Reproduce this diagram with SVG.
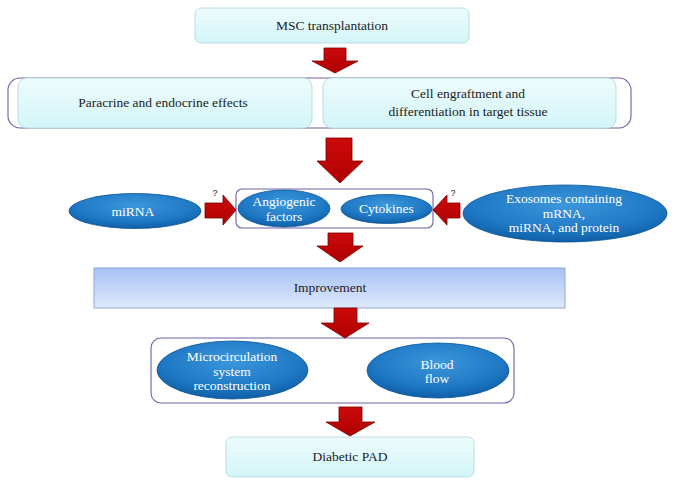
<svg xmlns="http://www.w3.org/2000/svg" width="677" height="486" viewBox="0 0 677 486">
<defs>
<linearGradient id="cyan" x1="0" y1="0" x2="0" y2="1"><stop offset="0" stop-color="#eefcfd"/><stop offset="1" stop-color="#d3f5f8"/></linearGradient>
<linearGradient id="imp" x1="0" y1="0" x2="0" y2="1"><stop offset="0" stop-color="#a6c2f4"/><stop offset="1" stop-color="#dfe9fb"/></linearGradient>
<radialGradient id="blue" cx="0.5" cy="0.35" r="0.65"><stop offset="0" stop-color="#3d97dc"/><stop offset="0.7" stop-color="#1e78c4"/><stop offset="1" stop-color="#0f5ea6"/></radialGradient>
<linearGradient id="red" x1="0" y1="0" x2="0" y2="1"><stop offset="0" stop-color="#cc0a0a"/><stop offset="1" stop-color="#b00000"/></linearGradient>
</defs>
<style>
.box{fill:url(#cyan);stroke:#b9dde6;stroke-width:1}
.cont{fill:none;stroke:#6c62a8;stroke-width:1.1}
.ell{fill:url(#blue);stroke:#0d5596;stroke-width:0.8}
.t{font-family:"Liberation Serif",serif;font-size:13.5px;fill:#222;text-anchor:middle}
.w{font-family:"Liberation Serif",serif;font-size:13.5px;fill:#fff;text-anchor:middle}
.q{font-family:"Liberation Sans",sans-serif;font-size:9px;fill:#222;text-anchor:middle}
.arr{fill:url(#red);stroke:#7a0000;stroke-width:0.8}
</style>
<g id="msc"><rect class="box" x="195" y="8" width="274" height="35" rx="6"/><text class="t" x="332" y="30">MSC transplantation</text></g>
<g id="row2">
<rect class="cont" x="8" y="78" width="623" height="50" rx="12"/>
<g id="paracrine"><rect class="box" x="18" y="78" width="294" height="50" rx="9"/><text class="t" x="163" y="107">Paracrine and endocrine effects</text></g>
<g id="engraft"><rect class="box" x="323" y="78" width="293" height="50" rx="9"/><text class="t" x="468" y="98">Cell engraftment and</text><text class="t" x="468" y="116">differentiation in target tissue</text></g>
</g>
<g id="mid">
<rect class="cont" x="236" y="189" width="197" height="39" rx="6"/>
<g id="angio"><ellipse class="ell" cx="284" cy="208.5" rx="46" ry="18.5"/><text class="w" x="284" y="206">Angiogenic</text><text class="w" x="284" y="221">factors</text></g>
<g id="cyto"><ellipse class="ell" cx="386.5" cy="209" rx="45.5" ry="14.5"/><text class="w" x="386.5" y="213">Cytokines</text></g>
</g>
<g id="mirna"><ellipse class="ell" cx="135" cy="211" rx="66" ry="17.5"/><text class="w" x="133" y="215.5">miRNA</text></g>
<g id="exo"><ellipse class="ell" cx="565" cy="213.5" rx="102" ry="28.5"/><text class="w" x="564" y="203">Exosomes containing</text><text class="w" x="564" y="217.5">mRNA,</text><text class="w" x="564" y="232">miRNA, and protein</text></g>
<g id="improvement"><rect x="94" y="268" width="471" height="40" fill="url(#imp)" stroke="#8ea8d8" stroke-width="1"/><text class="t" x="330" y="291.5">Improvement</text></g>
<g id="lower">
<rect class="cont" x="151" y="338" width="363" height="65" rx="10"/>
<g id="micro"><ellipse class="ell" cx="232.5" cy="370" rx="75.5" ry="29"/><text class="w" x="232" y="361">Microcirculation</text><text class="w" x="232" y="375.5">system</text><text class="w" x="232" y="390">reconstruction</text></g>
<g id="blood"><ellipse class="ell" cx="438" cy="370.5" rx="71" ry="27.5"/><text class="w" x="437" y="369">Blood</text><text class="w" x="437" y="383">flow</text></g>
</g>
<g id="pad"><rect class="box" x="226" y="437" width="248" height="40" rx="6"/><text class="t" x="350" y="461">Diabetic PAD</text></g>
<g id="connectors">
<path class="arr" d="M324,48 H346 V61 H358 L335,73 L312,61 H324 Z"/>
<path class="arr" d="M326,138 H352 V161 H363 L340,183 L317,161 H326 Z"/>
<path class="arr" d="M328,233 H353 V246 H363 L340,262 L317,246 H328 Z"/>
<path class="arr" d="M334,308 H357 V323 H369 L345,338 L321,323 H334 Z"/>
<path class="arr" d="M339,407 H362 V422 H375 L350,436 L326,422 H339 Z"/>
<path class="arr" d="M205,203 H223 V195 L236,210 L223,225 V218 H205 Z"/>
<path class="arr" d="M460,203 H447 V195 L433,210 L447,225 V218 H460 Z"/>
<text class="q" x="215" y="196">?</text>
<text class="q" x="453" y="196">?</text>
</g>
</svg>
